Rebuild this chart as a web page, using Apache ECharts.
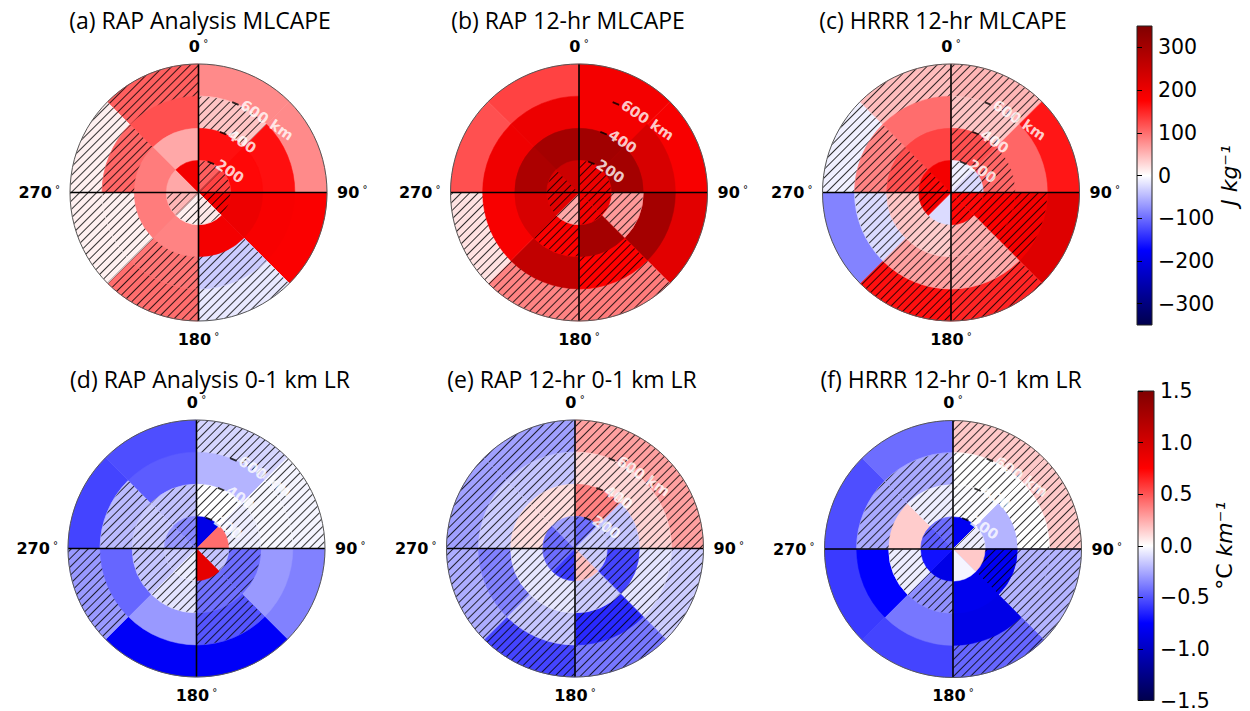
<!DOCTYPE html>
<html>
<head>
<meta charset="utf-8">
<script src="https://cdn.jsdelivr.net/npm/echarts@6/dist/echarts.min.js"></script>
<style>
  html, body { margin: 0; padding: 0; background: #fff; }
  #chart { width: 1250px; height: 711px; }
</style>
</head>
<body>
<div id="chart"></div>
<script>
// Azimuthal sectors (degrees clockwise from north) and range rings (km)
const sectors = ['0-45', '45-90', '90-135', '135-180', '180-225', '225-270', '270-315', '315-360'];
const ringEdges = [200, 400, 600, 800];
const radiusLabels = ['200', '400', '600 km'];
const angleTicks = [0, 90, 180, 270];
const capeTicks = [-300, -200, -100, 0, 100, 200, 300];
const lrTicks = [-1.5, -1.0, -0.5, 0.0, 0.5, 1.0, 1.5];
const capeRange = 350;
const lrRange = 1.5;

// Rows: rings from the centre outward; columns: sectors as listed above.
// Hatch = 1 marks a difference that is not significant.
const capeRapAnl = [
  [110, 130, 190, 15, 10, 50, 60, 190],
  [165, 170, 200, 190, 85, 90, 90, 60],
  [40, 165, 185, -35, 95, 10, 105, 120],
  [80, 80, 180, -15, 100, 10, 10, 110]
];
const capeRapAnlHatch = [
  [1, 1, 1, 1, 1, 1, 0, 0],
  [0, 0, 0, 0, 0, 0, 0, 0],
  [1, 0, 0, 1, 1, 1, 1, 0],
  [0, 0, 0, 1, 1, 1, 1, 1]
];
const capeRap12 = [
  [200, 200, 200, 190, 60, 215, 225, 245],
  [305, 300, 70, 300, 180, 230, 290, 300],
  [190, 230, 300, 175, 260, 185, 195, 200],
  [190, 185, 215, 90, 85, 20, 120, 130]
];
const capeRap12Hatch = [
  [1, 1, 1, 1, 1, 1, 1, 0],
  [0, 0, 1, 0, 1, 0, 0, 0],
  [0, 0, 0, 1, 0, 0, 0, 0],
  [0, 0, 0, 1, 1, 1, 0, 0]
];
const capeHrrr12 = [
  [-10, -25, 170, 170, -25, 190, 170, 190],
  [120, 105, 180, 55, 35, 40, 120, 130],
  [40, 105, 190, 60, 65, -25, 85, 100],
  [50, 160, 220, 150, 165, -85, -10, 45]
];
const capeHrrr12Hatch = [
  [1, 1, 1, 1, 0, 1, 1, 0],
  [1, 1, 1, 1, 1, 1, 1, 0],
  [1, 0, 1, 1, 1, 1, 1, 0],
  [1, 0, 0, 1, 1, 0, 1, 1]
];
const lrRapAnl = [
  [-0.85, 0.43, -0.17, 0.9, -0.05, -0.15, -0.3, -0.35],
  [0.0, -0.05, -0.43, -0.42, -0.08, -0.17, -0.15, -0.18],
  [-0.22, -0.02, -0.3, -0.5, -0.3, -0.45, -0.2, -0.48],
  [-0.12, -0.03, -0.37, -0.78, -0.78, -0.3, -0.55, -0.52]
];
const lrRapAnlHatch = [
  [0, 0, 1, 0, 1, 1, 1, 1],
  [1, 1, 1, 1, 1, 1, 1, 1],
  [0, 1, 0, 1, 0, 0, 1, 0],
  [1, 1, 0, 0, 0, 1, 0, 0]
];
const lrRap12 = [
  [-0.42, -0.15, -0.15, 0.19, -0.57, -0.43, -0.43, -0.28],
  [0.37, -0.17, -0.55, -0.15, -0.07, -0.07, 0.1, 0.1],
  [0.12, 0.13, -0.08, -0.63, -0.17, -0.37, -0.15, -0.17],
  [0.28, 0.28, -0.15, -0.4, -0.55, -0.24, -0.28, -0.28]
];
const lrRap12Hatch = [
  [1, 1, 1, 1, 1, 1, 1, 1],
  [1, 1, 1, 1, 1, 1, 1, 1],
  [1, 1, 1, 1, 1, 1, 1, 1],
  [1, 1, 1, 1, 1, 1, 1, 1]
];
const lrHrrr12 = [
  [-0.8, -0.05, 0.16, -0.03, -0.85, -0.7, -0.48, -0.43],
  [-0.01, -0.22, -0.8, -0.82, -0.33, -0.05, 0.15, -0.05],
  [0.0, 0.0, -0.22, -0.85, -0.4, -0.75, -0.25, -0.25],
  [0.16, 0.16, -0.22, -0.45, -0.55, -0.58, -0.52, -0.43]
];
const lrHrrr12Hatch = [
  [0, 1, 0, 0, 0, 0, 1, 1],
  [1, 0, 1, 0, 1, 1, 0, 1],
  [1, 1, 1, 0, 0, 0, 1, 1],
  [1, 1, 1, 1, 0, 0, 0, 0]
];

const panels = [
  { title: '(a) RAP Analysis MLCAPE',   vals: capeRapAnl, hatch: capeRapAnlHatch, range: capeRange, center: [198.5, 192.5], titleX: 200, titleY: 20 },
  { title: '(b) RAP 12-hr MLCAPE',      vals: capeRap12,  hatch: capeRap12Hatch,  range: capeRange, center: [579, 192.5],   titleX: 568, titleY: 20 },
  { title: '(c) HRRR 12-hr MLCAPE',     vals: capeHrrr12, hatch: capeHrrr12Hatch, range: capeRange, center: [951, 192.5],   titleX: 943, titleY: 20 },
  { title: '(d) RAP Analysis 0-1 km LR', vals: lrRapAnl,  hatch: lrRapAnlHatch,   range: lrRange,   center: [196.5, 548.5], titleX: 210, titleY: 379 },
  { title: '(e) RAP 12-hr 0-1 km LR',   vals: lrRap12,    hatch: lrRap12Hatch,    range: lrRange,   center: [575, 548.5],   titleX: 572, titleY: 379 },
  { title: '(f) HRRR 12-hr 0-1 km LR',  vals: lrHrrr12,   hatch: lrHrrr12Hatch,   range: lrRange,   center: [953, 549],     titleX: 951, titleY: 379 }
];
const polarRadius = 128.5;

// Diverging blue-white-red colour scale
const scaleStops = [
  [0, [0, 0, 77]], [0.25, [0, 0, 255]], [0.5, [255, 255, 255]],
  [0.75, [255, 0, 0]], [1, [128, 0, 0]]
];
function scaleColor(v, vmax) {
  const t = Math.max(0, Math.min(1, 0.5 + v / (2 * vmax)));
  for (let k = 1; k < scaleStops.length; k++) {
    const [t1, c1] = scaleStops[k];
    const [t0, c0] = scaleStops[k - 1];
    if (t <= t1) {
      const f = (t - t0) / (t1 - t0);
      const c = c0.map((x, i) => Math.round(x + (c1[i] - x) * f));
      return `rgb(${c[0]},${c[1]},${c[2]})`;
    }
  }
  return 'rgb(128,0,0)';
}

// Diagonal "/" hatching for cells that are not significant
function hatchDecal() {
  return {
    symbol: 'rect',
    symbolSize: 1,
    dashArrayX: [1, 0],
    dashArrayY: [0.9, 4.5],
    rotation: -Math.PI / 4,
    color: 'rgba(0,0,0,0.8)'
  };
}

const FONT = 'DejaVu Sans';
const polar = [], angleAxis = [], radiusAxis = [], series = [], title = [];

panels.forEach((p, i) => {
  const dataPolar = 2 * i, framePolar = 2 * i + 1;
  polar.push({ center: p.center, radius: polarRadius });
  polar.push({ center: p.center, radius: polarRadius });

  angleAxis.push({
    polarIndex: dataPolar, type: 'category', data: sectors,
    startAngle: 90, clockwise: true,
    axisLine: { show: false }, axisTick: { show: false },
    axisLabel: { show: false }, splitLine: { show: false }
  });
  radiusAxis.push({
    polarIndex: dataPolar, type: 'value', min: 0, max: 800,
    axisLine: { show: false }, axisTick: { show: false },
    axisLabel: { show: false }, splitLine: { show: false }
  });
  angleAxis.push({
    polarIndex: framePolar, type: 'value', min: 0, max: 360, interval: 90,
    startAngle: 90, clockwise: true, z: 10,
    axisLine: { show: true, lineStyle: { color: '#555', width: 1 } },
    axisTick: { show: false },
    splitLine: { show: false },
    axisLabel: {
      margin: 10,
      formatter: v => angleTicks.includes(v) ? `{n|${v}}{d| °}` : '',
      rich: {
        n: { fontFamily: FONT, fontWeight: 'bold', fontSize: 16, lineHeight: 16, color: '#000' },
        d: { fontFamily: FONT, fontSize: 10, lineHeight: 10, color: '#000', padding: [0, 0, 6, 0] }
      }
    }
  });
  radiusAxis.push({
    polarIndex: framePolar, type: 'value', min: 0, max: 800,
    axisLine: { show: false }, axisTick: { show: false },
    axisLabel: { show: false }, splitLine: { show: false }
  });

  // Range rings: each ring is a bar reaching its outer edge, outermost drawn
  // first so the inner ones sit on top of it without seams.
  for (let r = ringEdges.length - 1; r >= 0; r--) {
    series.push({
      type: 'bar', coordinateSystem: 'polar', polarIndex: dataPolar,
      barGap: '-100%', barCategoryGap: '0%', silent: true, z: 2,
      data: sectors.map((s, j) => {
        const color = scaleColor(p.vals[r][j], p.range);
        const style = { color: color, borderColor: color, borderWidth: 0.5 };
        if (p.hatch[r][j]) style.decal = hatchDecal();
        return { value: ringEdges[r], itemStyle: style };
      })
    });
  }

  // North-south and east-west lines through the centre
  [[0, 180], [90, 270]].forEach(pair => {
    series.push({
      type: 'line', coordinateSystem: 'polar', polarIndex: framePolar,
      symbol: 'none', silent: true, z: 5,
      lineStyle: { color: '#000', width: 1.6 },
      data: pair.map(a => [800, a])
    });
  });

  // Range labels with small tick marks
  series.push({
    type: 'scatter', coordinateSystem: 'polar', polarIndex: dataPolar,
    silent: true, z: 6,
    symbol: 'rect', symbolSize: [7, 1.8], symbolRotate: -22.5,
    itemStyle: { color: '#000' },
    label: {
      show: true, position: 'right', distance: 3, rotate: -34,
      color: '#fff', fontFamily: FONT, fontWeight: 'bold', fontSize: 14.5,
      formatter: q => radiusLabels[q.dataIndex]
    },
    data: ringEdges.slice(0, 3).map(e => [e, 0])
  });

  title.push({
    text: p.title, left: p.titleX, top: p.titleY, padding: 0,
    textAlign: 'center', textVerticalAlign: 'middle',
    textStyle: { fontFamily: 'Open Sans', fontWeight: 'normal', fontSize: 23, lineHeight: 22, color: '#000' }
  });
});

// Colour bars
function gradient() {
  return new echarts.graphic.LinearGradient(0, 1, 0, 0,
    scaleStops.map(([o, c]) => ({ offset: o, color: `rgb(${c[0]},${c[1]},${c[2]})` })));
}
const minus = s => String(s).replace('-', '\u2212');
const grid = [
  { left: 1137, top: 26, width: 15, height: 299, show: true, backgroundColor: gradient(), borderColor: '#222', borderWidth: 1 },
  { left: 1138, top: 391, width: 16, height: 311, show: true, backgroundColor: gradient(), borderColor: '#222', borderWidth: 1 }
];
const xAxis = [
  { gridIndex: 0, type: 'value', min: 0, max: 1, show: false },
  { gridIndex: 1, type: 'value', min: 0, max: 1, show: false }
];
function barAxis(idx, range, ticks, fmt, name, rich, gap) {
  return {
    gridIndex: idx, type: 'value', min: -range, max: range, position: 'right',
    axisLine: { show: false },
    splitLine: { show: false },
    axisTick: { show: true, customValues: ticks, length: 5, inside: false, lineStyle: { color: '#000', width: 1 } },
    axisLabel: { customValues: ticks, margin: 6, formatter: fmt, fontFamily: FONT, fontSize: 20.5, color: '#000' },
    name: name, nameLocation: 'middle', nameRotate: 90, nameGap: gap,
    nameTextStyle: { rich: rich }
  };
}
const yAxis = [
  barAxis(0, capeRange, capeTicks, v => minus(v), '{i|J kg⁻¹}',
    { i: { fontFamily: FONT, fontStyle: 'italic', fontSize: 22, color: '#000' } }, 64),
  barAxis(1, lrRange, lrTicks, v => minus(v.toFixed(1)), '{u|°C }{i|km⁻¹}',
    { u: { fontFamily: FONT, fontSize: 22, color: '#000' },
      i: { fontFamily: FONT, fontStyle: 'italic', fontSize: 22, color: '#000' } }, 58)
];
series.push({ type: 'scatter', xAxisIndex: 0, yAxisIndex: 0, data: [] });
series.push({ type: 'scatter', xAxisIndex: 1, yAxisIndex: 1, data: [] });

const chart = echarts.init(document.getElementById('chart'), null, { renderer: 'svg' });
chart.setOption({
  backgroundColor: '#fff',
  animation: false,
  title, polar, angleAxis, radiusAxis, grid, xAxis, yAxis, series
});
</script>
</body>
</html>
